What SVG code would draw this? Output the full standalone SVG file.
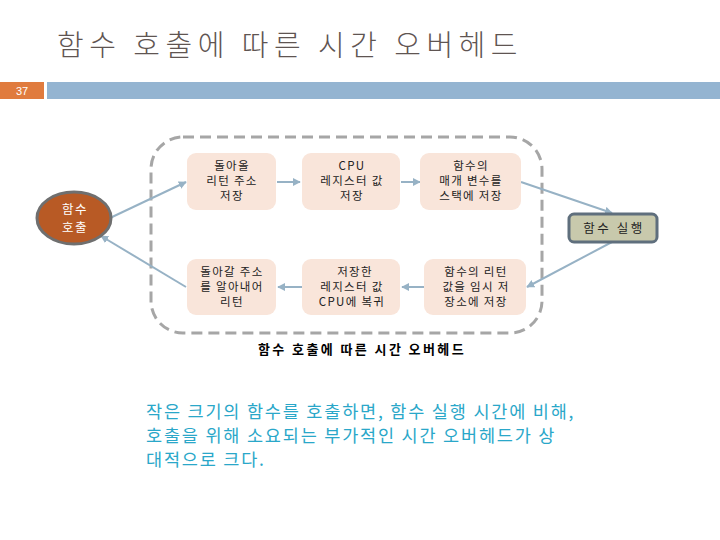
<svg xmlns="http://www.w3.org/2000/svg" width="720" height="540" viewBox="0 0 720 540">
<defs>
<style>
.ko{font-family:"Noto Sans CJK KR","Liberation Sans",sans-serif;}
.box{fill:#f9e5da;}
.bt{font-size:11.5px;fill:#222;text-anchor:middle;letter-spacing:1.3px;}
.conn{stroke:#97b2c5;stroke-width:2;fill:none;}
</style>
<marker id="ah" viewBox="0 0 10 10" refX="9" refY="5" markerWidth="4" markerHeight="4" orient="auto">
<path d="M0,0 L10,5 L0,10 z" fill="#97b2c5"/>
</marker>
</defs>
<rect width="720" height="540" fill="#fff"/>
<text x="57" y="56" class="ko" font-size="29" font-weight="300" letter-spacing="5.5" fill="#5f5552">함수 호출에 따른 시간 오버헤드</text>
<rect x="0" y="82" width="44" height="17" fill="#e07b3e"/>
<text x="16" y="95" font-family="Liberation Sans,sans-serif" font-size="11" fill="#fff">37</text>
<rect x="47" y="82" width="673" height="17" fill="#94b4d1"/>

<rect x="151" y="137" width="391" height="196" rx="32" fill="none" stroke="#a6a6a6" stroke-width="3" stroke-dasharray="11,6"/>

<g id="connectors">
<line class="conn" x1="110" y1="218" x2="186" y2="182" marker-end="url(#ah)"/>
<line class="conn" x1="277" y1="182" x2="300" y2="182" marker-end="url(#ah)"/>
<line class="conn" x1="401" y1="182" x2="420" y2="182" marker-end="url(#ah)"/>
<line class="conn" x1="521" y1="182" x2="612" y2="213" marker-end="url(#ah)"/>
<line class="conn" x1="612" y1="242" x2="527" y2="287" marker-end="url(#ah)"/>
<line class="conn" x1="424" y1="287" x2="402" y2="287" marker-end="url(#ah)"/>
<line class="conn" x1="302" y1="287" x2="278" y2="287" marker-end="url(#ah)"/>
<line class="conn" x1="186" y1="287" x2="101" y2="236" marker-end="url(#ah)"/>
</g>

<g id="call">
<ellipse cx="74" cy="218" rx="37" ry="26" fill="#b85a25" stroke="#6f6f6f" stroke-width="3"/>
<text class="ko" x="75" y="214" font-size="12.5" letter-spacing="1.5" fill="#fff" text-anchor="middle">함수</text>
<text class="ko" x="75" y="232" font-size="12.5" letter-spacing="1.5" fill="#fff" text-anchor="middle">호출</text>
</g>
<g id="b1">
<rect class="box" x="187" y="153" width="89" height="57" rx="9"/>
<text class="ko bt" x="232" y="170">돌아올</text>
<text class="ko bt" x="232" y="185">리턴 주소</text>
<text class="ko bt" x="232" y="200">저장</text>
</g>
<g id="b2">
<rect class="box" x="302" y="153" width="98" height="57" rx="9"/>
<text class="ko bt" x="352" y="170">CPU</text>
<text class="ko bt" x="352" y="185">레지스터 값</text>
<text class="ko bt" x="352" y="200">저장</text>
</g>
<g id="b3">
<rect class="box" x="420" y="153" width="101" height="57" rx="9"/>
<text class="ko bt" x="471" y="170">함수의</text>
<text class="ko bt" x="471" y="185">매개 변수를</text>
<text class="ko bt" x="471" y="200">스택에 저장</text>
</g>
<g id="b4">
<rect class="box" x="187" y="259" width="89" height="56" rx="9"/>
<text class="ko bt" x="232" y="276">돌아갈 주소</text>
<text class="ko bt" x="232" y="291">를 알아내어</text>
<text class="ko bt" x="232" y="306">리턴</text>
</g>
<g id="b5">
<rect class="box" x="302" y="259" width="98" height="56" rx="9"/>
<text class="ko bt" x="355" y="276">저장한</text>
<text class="ko bt" x="352" y="291">레지스터 값</text>
<text class="ko bt" x="352" y="306">CPU에 복귀</text>
</g>
<g id="b6">
<rect class="box" x="424" y="259" width="102" height="56" rx="9"/>
<text class="ko bt" x="476" y="276">함수의 리턴</text>
<text class="ko bt" x="476" y="291">값을 임시 저</text>
<text class="ko bt" x="476" y="306">장소에 저장</text>
</g>
<g id="exec">
<rect x="569" y="214" width="88" height="28" rx="5" fill="#c8c9ac" stroke="#5f6f7d" stroke-width="3"/>
<text class="ko" x="614" y="233" font-size="12.5" letter-spacing="2.5" fill="#222" text-anchor="middle">함수 실행</text>
</g>

<text class="ko" x="362" y="354" font-size="13" font-weight="bold" letter-spacing="2.4" fill="#000" text-anchor="middle">함수 호출에 따른 시간 오버헤드</text>

<g class="ko" font-size="17.5" letter-spacing="1.8" fill="#2aa7c9">
<text x="146" y="418">작은 크기의 함수를 호출하면, 함수 실행 시간에 비해,</text>
<text x="146" y="442">호출을 위해 소요되는 부가적인 시간 오버헤드가 상</text>
<text x="146" y="466">대적으로 크다.</text>
</g>
</svg>
